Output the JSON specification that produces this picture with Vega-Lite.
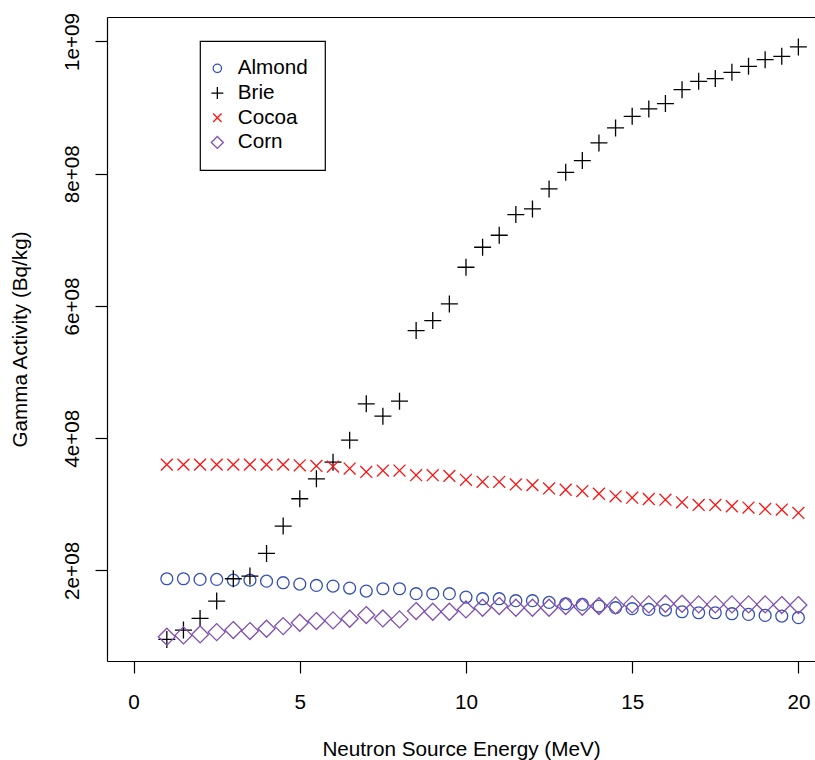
{
  "$schema": "https://vega.github.io/schema/vega-lite/v6.json",
  "autosize": "none",
  "width": 708,
  "height": 644,
  "padding": {"left": 107, "top": 17, "right": 0, "bottom": 99},
  "background": "white",
  "config": {
    "view": {"stroke": null},
    "font": "Liberation Sans",
    "axis": {
      "labelFont": "Liberation Sans",
      "titleFont": "Liberation Sans",
      "labelFontSize": 20.7,
      "titleFontSize": 20.7,
      "titleFontWeight": "normal",
      "labelColor": "black",
      "titleColor": "black",
      "domainColor": "black",
      "domainWidth": 1.2,
      "tickColor": "black",
      "tickWidth": 1.2,
      "tickSize": 12,
      "grid": false
    },
    "legend": {
      "orient": "none",
      "legendX": 93,
      "legendY": 24,
      "strokeColor": "black",
      "strokeWidth": 1.2,
      "padding": 17,
      "labelFont": "Liberation Sans",
      "labelFontSize": 20.7,
      "labelColor": "black",
      "symbolSize": 144,
      "symbolStrokeWidth": 1.3,
      "symbolOffset": -10,
      "rowPadding": 2.7,
      "labelOffset": 10,
      "fillColor": "white"
    }
  },
  "data": {
    "values": [
      {"e": 1, "Almond": 1.874e8, "Brie": 0.957e8, "Cocoa": 3.60e8, "Corn": 0.998e8},
      {"e": 1.5, "Almond": 1.874e8, "Brie": 1.098e8, "Cocoa": 3.60e8, "Corn": 1.017e8},
      {"e": 2, "Almond": 1.864e8, "Brie": 1.274e8, "Cocoa": 3.60e8, "Corn": 1.032e8},
      {"e": 2.5, "Almond": 1.864e8, "Brie": 1.536e8, "Cocoa": 3.60e8, "Corn": 1.067e8},
      {"e": 3, "Almond": 1.853e8, "Brie": 1.874e8, "Cocoa": 3.60e8, "Corn": 1.098e8},
      {"e": 3.5, "Almond": 1.853e8, "Brie": 1.914e8, "Cocoa": 3.60e8, "Corn": 1.083e8},
      {"e": 4, "Almond": 1.838e8, "Brie": 2.257e8, "Cocoa": 3.60e8, "Corn": 1.118e8},
      {"e": 4.5, "Almond": 1.814e8, "Brie": 2.670e8, "Cocoa": 3.60e8, "Corn": 1.158e8},
      {"e": 5, "Almond": 1.793e8, "Brie": 3.084e8, "Cocoa": 3.59e8, "Corn": 1.209e8},
      {"e": 5.5, "Almond": 1.773e8, "Brie": 3.386e8, "Cocoa": 3.58e8, "Corn": 1.234e8},
      {"e": 6, "Almond": 1.763e8, "Brie": 3.637e8, "Cocoa": 3.57e8, "Corn": 1.244e8},
      {"e": 6.5, "Almond": 1.733e8, "Brie": 3.97e8, "Cocoa": 3.54e8, "Corn": 1.269e8},
      {"e": 7, "Almond": 1.687e8, "Brie": 4.520e8, "Cocoa": 3.49e8, "Corn": 1.325e8},
      {"e": 7.5, "Almond": 1.723e8, "Brie": 4.333e8, "Cocoa": 3.51e8, "Corn": 1.274e8},
      {"e": 8, "Almond": 1.723e8, "Brie": 4.559e8, "Cocoa": 3.51e8, "Corn": 1.259e8},
      {"e": 8.5, "Almond": 1.648e8, "Brie": 5.628e8, "Cocoa": 3.44e8, "Corn": 1.385e8},
      {"e": 9, "Almond": 1.648e8, "Brie": 5.779e8, "Cocoa": 3.44e8, "Corn": 1.375e8},
      {"e": 9.5, "Almond": 1.648e8, "Brie": 6.031e8, "Cocoa": 3.43e8, "Corn": 1.375e8},
      {"e": 10, "Almond": 1.597e8, "Brie": 6.585e8, "Cocoa": 3.37e8, "Corn": 1.410e8},
      {"e": 10.5, "Almond": 1.572e8, "Brie": 6.888e8, "Cocoa": 3.34e8, "Corn": 1.436e8},
      {"e": 11, "Almond": 1.572e8, "Brie": 7.069e8, "Cocoa": 3.34e8, "Corn": 1.461e8},
      {"e": 11.5, "Almond": 1.542e8, "Brie": 7.382e8, "Cocoa": 3.30e8, "Corn": 1.436e8},
      {"e": 12, "Almond": 1.542e8, "Brie": 7.468e8, "Cocoa": 3.29e8, "Corn": 1.436e8},
      {"e": 12.5, "Almond": 1.516e8, "Brie": 7.770e8, "Cocoa": 3.24e8, "Corn": 1.436e8},
      {"e": 13, "Almond": 1.496e8, "Brie": 8.021e8, "Cocoa": 3.22e8, "Corn": 1.461e8},
      {"e": 13.5, "Almond": 1.486e8, "Brie": 8.198e8, "Cocoa": 3.20e8, "Corn": 1.451e8},
      {"e": 14, "Almond": 1.461e8, "Brie": 8.465e8, "Cocoa": 3.16e8, "Corn": 1.461e8},
      {"e": 14.5, "Almond": 1.436e8, "Brie": 8.692e8, "Cocoa": 3.12e8, "Corn": 1.471e8},
      {"e": 15, "Almond": 1.421e8, "Brie": 8.868e8, "Cocoa": 3.10e8, "Corn": 1.486e8},
      {"e": 15.5, "Almond": 1.410e8, "Brie": 8.979e8, "Cocoa": 3.08e8, "Corn": 1.486e8},
      {"e": 16, "Almond": 1.400e8, "Brie": 9.060e8, "Cocoa": 3.07e8, "Corn": 1.496e8},
      {"e": 16.5, "Almond": 1.375e8, "Brie": 9.271e8, "Cocoa": 3.03e8, "Corn": 1.496e8},
      {"e": 17, "Almond": 1.360e8, "Brie": 9.397e8, "Cocoa": 2.99e8, "Corn": 1.486e8},
      {"e": 17.5, "Almond": 1.360e8, "Brie": 9.438e8, "Cocoa": 2.99e8, "Corn": 1.486e8},
      {"e": 18, "Almond": 1.345e8, "Brie": 9.533e8, "Cocoa": 2.97e8, "Corn": 1.486e8},
      {"e": 18.5, "Almond": 1.335e8, "Brie": 9.624e8, "Cocoa": 2.95e8, "Corn": 1.486e8},
      {"e": 19, "Almond": 1.320e8, "Brie": 9.725e8, "Cocoa": 2.93e8, "Corn": 1.486e8},
      {"e": 19.5, "Almond": 1.309e8, "Brie": 9.775e8, "Cocoa": 2.92e8, "Corn": 1.476e8},
      {"e": 20, "Almond": 1.285e8, "Brie": 9.917e8, "Cocoa": 2.87e8, "Corn": 1.476e8}
    ]
  },
  "transform": [{"fold": ["Almond", "Brie", "Cocoa", "Corn"], "as": ["food", "activity"]}],
  "layer": [
    {
      "mark": {"type": "point", "filled": false, "size": 289, "strokeWidth": 1.3, "opacity": 1},
      "encoding": {
        "x": {
          "field": "e", "type": "quantitative",
          "scale": {"domain": [-0.8, 20.5], "nice": false, "zero": false},
          "axis": {
            "orient": "bottom",
            "values": [0, 5, 10, 15, 20],
            "title": "Neutron Source Energy (MeV)",
            "labelPadding": 19,
            "titlePadding": 27.5,
            "labelFlush": false,
            "labelOverlap": false
          }
        },
        "y": {
          "field": "activity", "type": "quantitative",
          "scale": {"domain": [6.3e7, 1.037e9], "nice": false, "zero": false},
          "axis": {
            "values": [2e8, 4e8, 6e8, 8e8, 1e9],
            "title": "Gamma Activity (Bq/kg)",
            "labelAngle": 270,
            "labelAlign": "center",
            "labelBaseline": "alphabetic",
            "labelPadding": 17,
            "titlePadding": 31,
            "labelExpr": "datum.value >= 1e9 ? '1e+09' : (datum.value / 1e8) + 'e+08'",
            "labelFlush": false,
            "labelOverlap": false
          }
        },
        "shape": {
          "field": "food", "type": "nominal",
          "scale": {
            "domain": ["Almond", "Brie", "Cocoa", "Corn"],
            "range": [
              "M0.7,0A0.7,0.7,0,1,1,-0.7,0A0.7,0.7,0,1,1,0.7,0Z",
              "M-1,0L1,0M0,-1L0,1",
              "M-0.7,-0.7L0.7,0.7M-0.7,0.7L0.7,-0.7",
              "M0,-1L1,0L0,1L-1,0Z"
            ]
          },
          "legend": {"title": null}
        },
        "color": {
          "field": "food", "type": "nominal",
          "scale": {
            "domain": ["Almond", "Brie", "Cocoa", "Corn"],
            "range": ["#3550B8", "#000000", "#FF1010", "#7F50B2"]
          },
          "legend": {"title": null}
        }
      }
    },
    {
      "mark": {"type": "point", "opacity": 0},
      "encoding": {
        "x": {
          "field": "e", "type": "quantitative",
          "scale": {"domain": [-0.8, 20.5], "nice": false, "zero": false},
          "axis": {"orient": "top", "ticks": false, "labels": false, "title": null, "domain": true}
        }
      }
    }
  ],
  "resolve": {"axis": {"x": "independent"}}
}
